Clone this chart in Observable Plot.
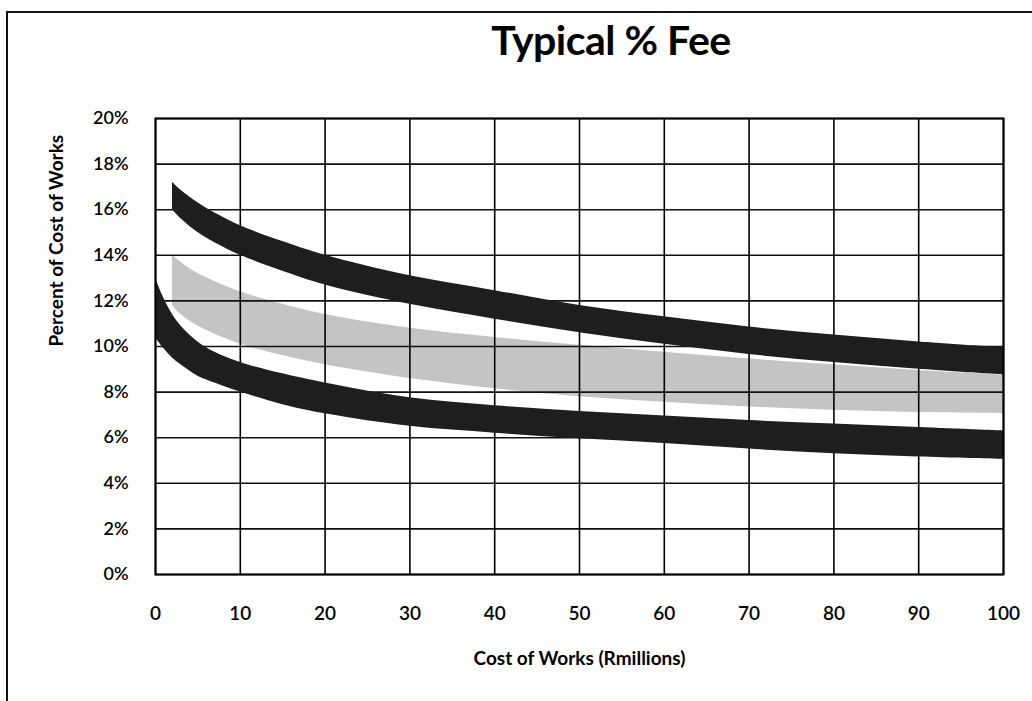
<!DOCTYPE html>
<html>
<head>
<meta charset="utf-8">
<script src="https://cdn.jsdelivr.net/npm/d3@7"></script>
<script src="https://cdn.jsdelivr.net/npm/@observablehq/plot@0.6"></script>
<style>
  body { margin: 0; background: #fff; }
  #wrap { position: relative; width: 1032px; height: 701px; overflow: hidden; font-family: Lato, "Open Sans", sans-serif; background: #fff; }
  #border { position: absolute; left: 6px; top: 11px; width: 1100px; height: 800px; border-left: 2px solid #111; border-top: 2px solid #111; pointer-events: none; }
  #title { position: relative; height: 100px; }
  #title span { position: absolute; left: 611px; top: 18px; transform: translateX(-50%); font-size: 41px; font-weight: 700; line-height: 44px; color: #000; white-space: nowrap; letter-spacing: -0.5px; }
  #chart svg { display: block; }
</style>
</head>
<body>
<div id="wrap">
  <div id="border"></div>
  <div id="title"><span>Typical % Fee</span></div>
  <div id="chart"></div>
</div>
<script>
// Axis ticks
const xTicks = [0, 10, 20, 30, 40, 50, 60, 70, 80, 90, 100];
const yTicks = [0, 2, 4, 6, 8, 10, 12, 14, 16, 18, 20];

// Upper dark band (percent)
const upperX  = [2, 3, 5, 7, 10, 15, 20, 30, 40, 50, 60, 70, 80, 90, 100];
const upperHi = [17.2, 16.85, 16.3, 15.85, 15.3, 14.6, 14.0, 13.1, 12.45, 11.8, 11.3, 10.85, 10.5, 10.2, 9.95];
const upperLo = [16.0, 15.6, 15.0, 14.55, 14.0, 13.3, 12.7, 11.85, 11.2, 10.6, 10.1, 9.65, 9.3, 9.0, 8.75];

// Middle grey band (percent)
const midX  = [2, 3, 5, 10, 15, 20, 30, 40, 50, 60, 70, 80, 90, 100];
const midHi = [14.0, 13.7, 13.2, 12.4, 11.85, 11.4, 10.8, 10.4, 10.05, 9.75, 9.45, 9.2, 8.95, 8.75];
const midLo = [11.8, 11.4, 10.9, 10.1, 9.6, 9.2, 8.6, 8.15, 7.8, 7.55, 7.35, 7.2, 7.1, 7.05];

// Lower dark band (percent)
const lowerX  = [0, 1, 2, 3, 5, 7, 10, 15, 20, 30, 40, 50, 60, 70, 80, 90, 100];
const lowerHi = [13.0, 12.1, 11.4, 10.9, 10.2, 9.75, 9.3, 8.8, 8.4, 7.75, 7.4, 7.15, 6.95, 6.75, 6.6, 6.45, 6.3];
const lowerLo = [10.4, 9.9, 9.5, 9.2, 8.7, 8.4, 8.0, 7.45, 7.05, 6.5, 6.2, 5.95, 5.75, 5.5, 5.3, 5.15, 5.05];

const band = (xs, hi, lo) => xs.map((x, i) => ({x, hi: hi[i], lo: lo[i]}));
const upper = band(upperX, upperHi, upperLo);
const mid = band(midX, midHi, midLo);
const lower = band(lowerX, lowerHi, lowerLo);

const chart = Plot.plot({
  width: 1032,
  height: 601,
  marginLeft: 155,
  marginRight: 29,
  marginTop: 18,
  marginBottom: 127,
  style: {fontFamily: "Lato, 'Open Sans', sans-serif", color: "#000", background: "transparent"},
  x: {domain: [0, 100]},
  y: {domain: [0, 20]},
  marks: [
    Plot.areaY(mid, {x: "x", y1: "lo", y2: "hi", fill: "#9c9c9c", fillOpacity: 0.6, curve: "catmull-rom"}),
    Plot.ruleY(yTicks, {y: d => d, stroke: "#111", strokeWidth: 1.6}),
    Plot.ruleX(xTicks, {x: d => d, stroke: "#000", strokeWidth: 1.6}),
    Plot.areaY(upper, {x: "x", y1: "lo", y2: "hi", fill: "#1e1e1e", curve: "catmull-rom"}),
    Plot.areaY(lower, {x: "x", y1: "lo", y2: "hi", fill: "#1e1e1e", curve: "catmull-rom"}),
    Plot.frame({stroke: "#000", strokeWidth: 2}),
    Plot.axisX({ticks: xTicks, tickSize: 0, tickPadding: 32, fontSize: 19, fontWeight: 600, label: null}),
    Plot.axisY({ticks: yTicks, tickSize: 0, tickPadding: 27, fontSize: 18, fontWeight: 600, tickFormat: d => d + "%", label: null}),
    Plot.text(["Percent of Cost of Works"], {frameAnchor: "left", dx: -99, rotate: -90, fontSize: 19, fontWeight: 700, text: d => d}),
    Plot.text(["Cost of Works (Rmillions)"], {frameAnchor: "bottom", dy: 90, fontSize: 19, fontWeight: 700, text: d => d})
  ]
});
document.getElementById("chart").appendChild(chart);
</script>
</body>
</html>
